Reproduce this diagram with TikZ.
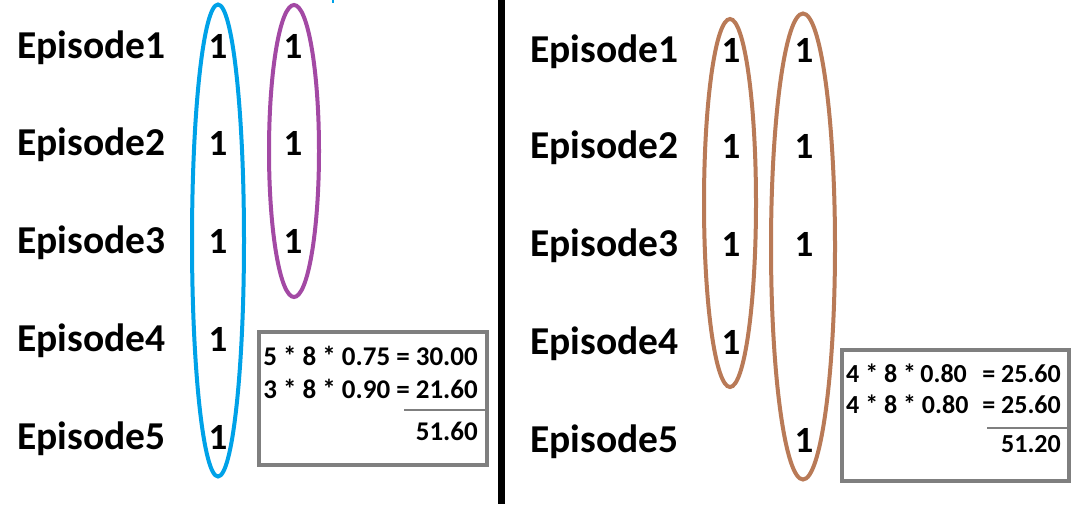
\documentclass[tikz,border=0pt]{standalone}
\usepackage{fontspec}
\setmainfont{Carlito}
\definecolor{myblue}{HTML}{00A2E8}
\definecolor{mypurple}{HTML}{A349A4}
\definecolor{mybrown}{HTML}{B97A57}
\definecolor{mygray}{HTML}{7F7F7F}
\begin{document}
\begin{tikzpicture}[x=1pt,y=-1pt,
  ep/.style={anchor=base west,inner sep=0pt,font=\fontsize{39.5}{42}\selectfont\bfseries},
  one/.style={anchor=base,inner sep=0pt,font=\fontsize{37}{40}\selectfont\bfseries},
  calc/.style={inner sep=0pt,font=\fontsize{27}{30}\selectfont\bfseries},
  calcr/.style={inner sep=0pt,font=\fontsize{26}{29}\selectfont\bfseries},
  ring/.style={line width=4pt},
  sumbox/.style={draw=mygray,line width=4.5pt},
  rule/.style={draw=mygray,line width=2.2pt}]
\useasboundingbox (0,0) rectangle (1079,504);
\fill[white] (0,0) rectangle (1079,504);
% divider
\draw[line width=7pt] (501.5,0) -- (501.5,504);
% left labels
\foreach \i/\y in {1/58,2/155,3/253,4/351,5/449}{
  \node[ep] (L\i) at (17,\y) {Episode\i};
  \node[one] (La\i) at (218,\y) {1};
}
\foreach \i/\y in {1/58,2/155,3/253}{
  \node[one] (Lb\i) at (293,\y) {1};
}
% left ellipses
\draw[ring,myblue] (218,240.5) ellipse [x radius=26,y radius=236];
\draw[ring,mypurple] (294,151) ellipse [x radius=25,y radius=146];
\draw[myblue,line width=2pt] (333,0) -- (333,3);
% left box
\draw[sumbox] (259,332) rectangle (487,465);
\node[calc,anchor=base east] (l1) at (478,365) {5 * 8 * 0.75 = 30.00};
\node[calc,anchor=base east] (l2) at (478,398) {3 * 8 * 0.90 = 21.60};
\draw[rule] (404,410) -- (485,410);
\node[calc,anchor=base east] (l3) at (478,440) {51.60};
% right labels
\foreach \i/\y in {1/62,2/158,3/256,4/354,5/452}{
  \node[ep] (R\i) at (530,\y) {Episode\i};
}
\foreach \i/\y in {1/62,2/158,3/256,4/354}{
  \node[one] (Ra\i) at (731,\y) {1};
}
\foreach \i/\y in {1/62,2/158,3/256,5/452}{
  \node[one] (Rb\i) at (804,\y) {1};
}
% right ellipses
\draw[ring,mybrown] (730,203) ellipse [x radius=26,y radius=184];
\draw[ring,mybrown] (803,246.5) ellipse [x radius=32,y radius=233];
% right box
\draw[sumbox] (842,350) rectangle (1069,481);
\node[calcr,anchor=base west] (r1a) at (846,382) {4 * 8 *\,0.80};
\node[calcr,anchor=base east] (r1b) at (1061,382) {= 25.60};
\node[calcr,anchor=base west] (r2a) at (846,413) {4 * 8 * 0.80};
\node[calcr,anchor=base east] (r2b) at (1061,413) {= 25.60};
\draw[rule] (987,428) -- (1067,428);
\node[calcr,anchor=base east] (r3) at (1061,452) {51.20};
\end{tikzpicture}
\end{document}
